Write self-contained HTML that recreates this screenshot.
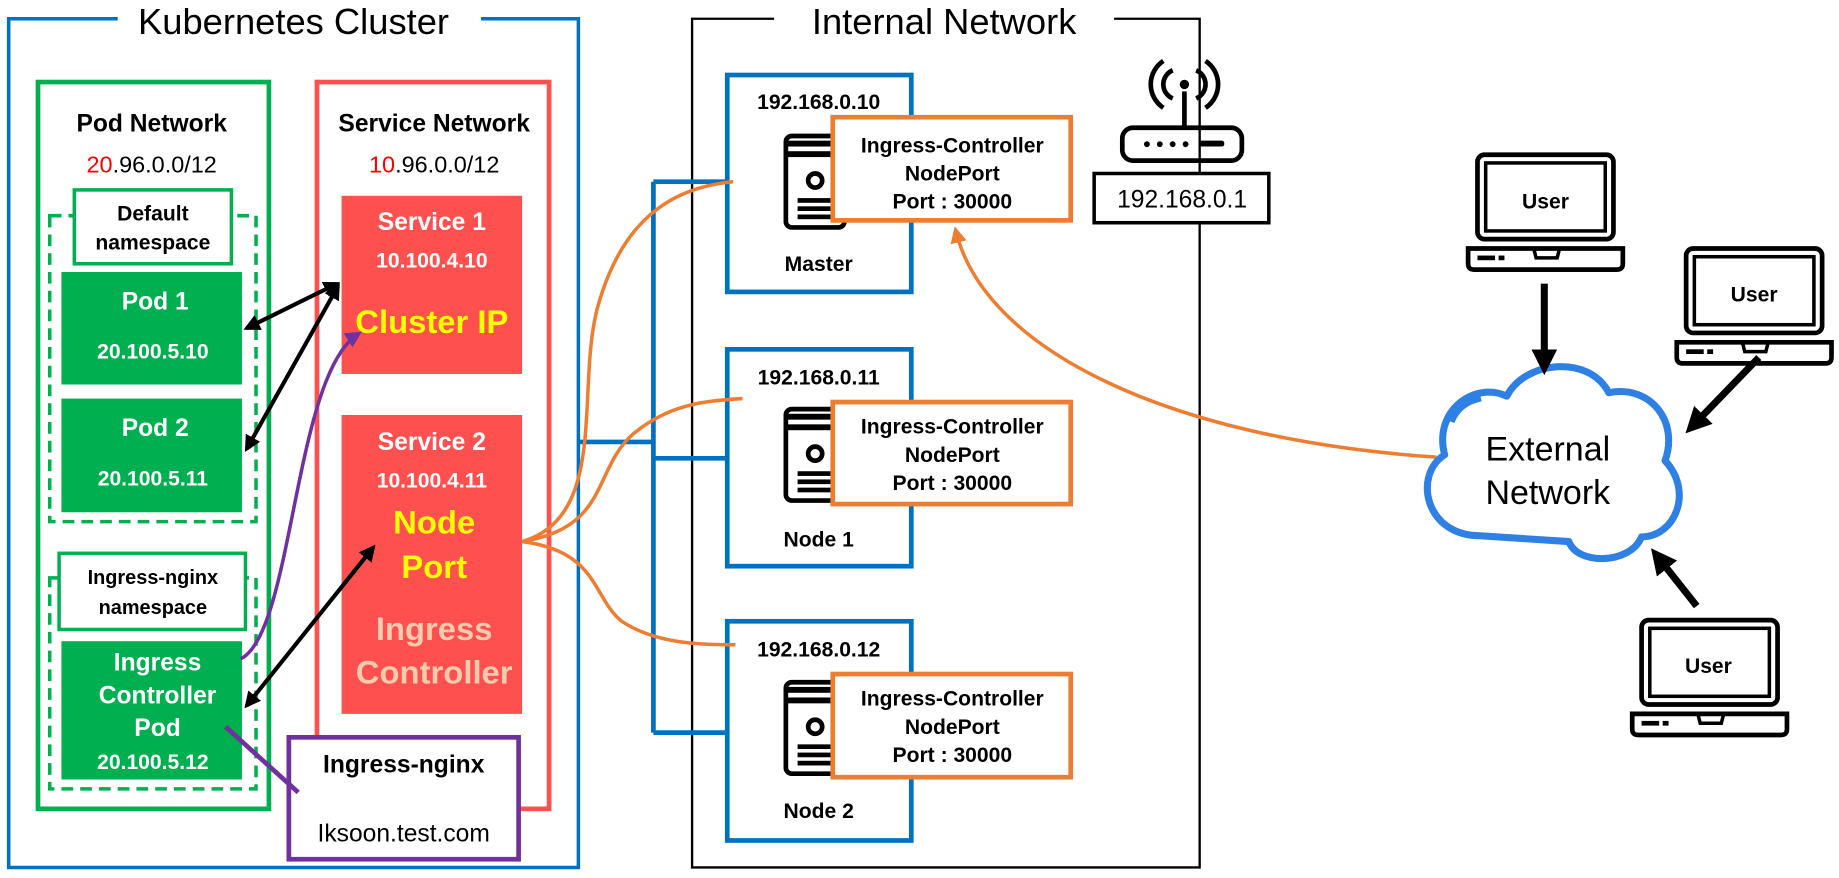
<!DOCTYPE html>
<html><head><meta charset="utf-8"><style>
html,body{margin:0;padding:0;background:#fff;width:1839px;height:878px;overflow:hidden}
svg{display:block}
text{font-family:"Liberation Sans","Noto Sans CJK KR",sans-serif;text-anchor:middle}
.b{font-weight:bold}
</style></head><body>
<svg width="1839" height="878" viewBox="0 0 1568 749" xmlns="http://www.w3.org/2000/svg">
<defs>
<marker id="ak" markerWidth="14" markerHeight="14" refX="11" refY="7" orient="auto-start-reverse" markerUnits="userSpaceOnUse"><path d="M0,0 L14,7 L0,14 z" fill="#000"/></marker>
<marker id="akb" markerWidth="22" markerHeight="22" refX="14" refY="11" orient="auto" markerUnits="userSpaceOnUse"><path d="M0,0 L22,11 L0,22 z" fill="#000"/></marker>
<marker id="ao" markerWidth="14" markerHeight="14" refX="10" refY="7" orient="auto" markerUnits="userSpaceOnUse"><path d="M0,0 L14,7 L0,14 z" fill="#ed7d31"/></marker>
<marker id="ap" markerWidth="14" markerHeight="14" refX="10" refY="7" orient="auto" markerUnits="userSpaceOnUse"><path d="M0,0 L14,7 L0,14 z" fill="#7030a0"/></marker>
<g id="srv">
<rect x="2" y="2" width="50" height="78" rx="5" fill="#fff" stroke="#000" stroke-width="4"/>
<rect x="2" y="6" width="50" height="5" fill="#000"/><rect x="2" y="15" width="50" height="5" fill="#000"/>
<circle cx="27" cy="40" r="6" fill="none" stroke="#000" stroke-width="4"/>
<rect x="12" y="55" width="30" height="4" fill="#000"/><rect x="12" y="62" width="30" height="4" fill="#000"/><rect x="12" y="69" width="30" height="4" fill="#000"/>
</g>
<g id="lap">
<rect x="10" y="2" width="116" height="72" rx="6" fill="#fff" stroke="#000" stroke-width="4"/>
<rect x="17" y="9" width="102" height="58" fill="none" stroke="#000" stroke-width="3"/>
<path d="M2,82 L134,82 L134,95 Q134,100 129,100 L7,100 Q2,100 2,95 Z" fill="#fff" stroke="#000" stroke-width="4"/>
<rect x="10" y="88" width="15" height="4" fill="#000"/><rect x="28" y="88" width="5" height="4" fill="#000"/>
<path d="M58,82 L60,90 L78,90 L80,82" fill="none" stroke="#000" stroke-width="3"/>
</g>
</defs>

<path d="M100,16 L7,16 L7,740 L493,740 L493,16 L410,16" fill="none" stroke="#0070c0" stroke-width="3"/>
<text x="250" y="29" font-size="31">Kubernetes Cluster</text>

<rect x="32" y="70" width="197" height="620" fill="none" stroke="#00b050" stroke-width="4"/>
<text x="129" y="112" font-size="21" class="b">Pod Network</text>
<text x="129" y="147" font-size="20"><tspan fill="#ff0000">20</tspan>.96.0.0/12</text>
<rect x="42" y="184" width="176" height="261" fill="none" stroke="#00b050" stroke-width="3" stroke-dasharray="10,6"/>
<rect x="63" y="162" width="134" height="63" fill="#fff" stroke="#00b050" stroke-width="3"/>
<text x="130" y="188" font-size="18" class="b">Default</text>
<text x="130" y="213" font-size="18" class="b">namespace</text>
<rect x="52" y="232" width="154" height="96" fill="#00b050"/>
<text x="132" y="264" font-size="21" class="b" fill="#fff">Pod 1</text>
<text x="130" y="306" font-size="18" class="b" fill="#fff">20.100.5.10</text>
<rect x="52" y="340" width="154" height="97" fill="#00b050"/>
<text x="132" y="372" font-size="21" class="b" fill="#fff">Pod 2</text>
<text x="130" y="414" font-size="18" class="b" fill="#fff">20.100.5.11</text>
<rect x="42" y="493" width="176" height="180" fill="none" stroke="#00b050" stroke-width="3" stroke-dasharray="10,6"/>
<rect x="50" y="472" width="159" height="65" fill="#fff" stroke="#00b050" stroke-width="3"/>
<text x="130" y="498" font-size="17" class="b">Ingress-nginx</text>
<text x="130" y="524" font-size="17" class="b">namespace</text>
<rect x="52" y="547" width="154" height="118" fill="#00b050"/>
<text x="134" y="572" font-size="21" class="b" fill="#fff">Ingress</text>
<text x="134" y="600" font-size="21" class="b" fill="#fff">Controller</text>
<text x="134" y="628" font-size="21" class="b" fill="#fff">Pod</text>
<text x="130" y="656" font-size="18" class="b" fill="#fff">20.100.5.12</text>

<rect x="270" y="70" width="198" height="620" fill="none" stroke="#ff5050" stroke-width="4"/>
<text x="370" y="112" font-size="21" class="b">Service Network</text>
<text x="370" y="147" font-size="20"><tspan fill="#ff0000">10</tspan>.96.0.0/12</text>
<rect x="291" y="167" width="154" height="152" fill="#ff5050"/>
<text x="368" y="196" font-size="21" class="b" fill="#fff">Service 1</text>
<text x="368" y="228" font-size="18" class="b" fill="#fff">10.100.4.10</text>
<text x="368" y="284" font-size="28" class="b" fill="#ffff00">Cluster IP</text>
<rect x="291" y="354" width="154" height="255" fill="#ff5050"/>
<text x="368" y="384" font-size="21" class="b" fill="#fff">Service 2</text>
<text x="368" y="416" font-size="18" class="b" fill="#fff">10.100.4.11</text>
<text x="370" y="455" font-size="28" class="b" fill="#ffff00">Node</text>
<text x="370" y="493" font-size="28" class="b" fill="#ffff00">Port</text>
<text x="370" y="546" font-size="28" class="b" fill="#f8cbad">Ingress</text>
<text x="370" y="583" font-size="28" class="b" fill="#f8cbad">Controller</text>

<rect x="246" y="629" width="196" height="104" fill="#fff" stroke="#7030a0" stroke-width="4"/>
<text x="344" y="659" font-size="21" class="b">Ingress-nginx</text>
<text x="344" y="718" font-size="21">Iksoon.test.com</text>

<g stroke="#000" stroke-width="3.5" fill="none">
<line x1="210" y1="280" x2="287" y2="242" marker-start="url(#ak)" marker-end="url(#ak)"/>
<line x1="210" y1="383" x2="288" y2="244" marker-start="url(#ak)" marker-end="url(#ak)"/>
<line x1="210" y1="602" x2="318" y2="467" marker-start="url(#ak)" marker-end="url(#ak)"/>
</g>
<path d="M205,562 C250,540 250,320 305,285" fill="none" stroke="#7030a0" stroke-width="3" marker-end="url(#ap)"/>
<line x1="192" y1="620" x2="254" y2="676" stroke="#7030a0" stroke-width="4"/>

<path d="M660,16 L590,16 L590,740 L1023,740 L1023,16 L950,16" fill="none" stroke="#000" stroke-width="2"/>
<text x="805" y="29" font-size="31">Internal Network</text>

<g stroke="#0070c0" stroke-width="4" fill="none">
<line x1="493" y1="377" x2="557" y2="377"/>
<line x1="557" y1="155" x2="557" y2="625"/>
<line x1="557" y1="155" x2="620" y2="155"/>
<line x1="557" y1="391" x2="620" y2="391"/>
<line x1="557" y1="625" x2="620" y2="625"/>
</g>

<g>
<rect x="620" y="64" width="157" height="185" fill="#fff" stroke="#0070c0" stroke-width="4"/>
<text x="698" y="93" font-size="18" class="b">192.168.0.10</text>
<use href="#srv" x="668" y="114"/>
<text x="698" y="231" font-size="18" class="b">Master</text>
<rect x="710" y="100" width="203" height="88" fill="#fff" stroke="#ed7d31" stroke-width="4"/>
<text x="812" y="130" font-size="18" class="b">Ingress-Controller</text>
<text x="812" y="154" font-size="18" class="b">NodePort</text>
<text x="812" y="178" font-size="18" class="b">Port : 30000</text>

<rect x="620" y="298" width="157" height="185" fill="#fff" stroke="#0070c0" stroke-width="4"/>
<text x="698" y="328" font-size="18" class="b">192.168.0.11</text>
<use href="#srv" x="668" y="347"/>
<text x="698" y="466" font-size="18" class="b">Node 1</text>
<rect x="710" y="343" width="203" height="87" fill="#fff" stroke="#ed7d31" stroke-width="4"/>
<text x="812" y="370" font-size="18" class="b">Ingress-Controller</text>
<text x="812" y="394" font-size="18" class="b">NodePort</text>
<text x="812" y="418" font-size="18" class="b">Port : 30000</text>

<rect x="620" y="530" width="157" height="187" fill="#fff" stroke="#0070c0" stroke-width="4"/>
<text x="698" y="560" font-size="18" class="b">192.168.0.12</text>
<use href="#srv" x="668" y="580"/>
<text x="698" y="698" font-size="18" class="b">Node 2</text>
<rect x="710" y="575" width="203" height="88" fill="#fff" stroke="#ed7d31" stroke-width="4"/>
<text x="812" y="602" font-size="18" class="b">Ingress-Controller</text>
<text x="812" y="626" font-size="18" class="b">NodePort</text>
<text x="812" y="650" font-size="18" class="b">Port : 30000</text>
</g>

<g stroke="#ed7d31" stroke-width="3" fill="none">
<path d="M445,462 C520,440 490,330 510,260 C530,190 570,160 625,155"/>
<path d="M445,462 C520,450 505,400 540,370 C570,345 600,342 633,340"/>
<path d="M445,462 C510,470 505,510 530,530 C560,550 600,550 627,550"/>
<path d="M1225,390 C1000,375 840,300 815,197" marker-end="url(#ao)"/>
</g>

<g fill="none" stroke="#000" stroke-width="4">
<line x1="1010" y1="78" x2="1010" y2="108"/>
<circle cx="1010" cy="72" r="4" fill="#000" stroke="none"/>
<path d="M1000,60 A13,13 0 0 0 1000,84"/><path d="M1020,60 A13,13 0 0 1 1020,84"/>
<path d="M992,52 A24,24 0 0 0 992,92"/><path d="M1028,52 A24,24 0 0 1 1028,92"/>
<rect x="957" y="109" width="102" height="28" rx="9"/>
</g>
<g fill="#000"><circle cx="978" cy="123" r="2.5"/><circle cx="989" cy="123" r="2.5"/><circle cx="1000" cy="123" r="2.5"/><circle cx="1011" cy="123" r="2.5"/><rect x="1022" y="120" width="22" height="5" rx="2"/></g>
<rect x="933" y="148" width="149" height="42" fill="#fff" stroke="#000" stroke-width="3"/>
<text x="1008" y="177" font-size="21">192.168.0.1</text>

<path d="M1262,457 C1215,457 1205,405 1232,388 C1222,350 1258,325 1285,338 C1300,308 1355,302 1372,335 C1408,328 1432,360 1420,393 C1445,420 1428,458 1400,458 C1390,482 1345,482 1338,462 Z" fill="#fff" stroke="#2f80e4" stroke-width="6" stroke-linejoin="round"/>
<path d="M1238,360 C1243,347 1253,342 1263,340" fill="none" stroke="#2f80e4" stroke-width="5"/>
<text x="1320" y="393" font-size="29">External</text>
<text x="1320" y="430" font-size="29">Network</text>

<use href="#lap" x="1250" y="130"/>
<text x="1318" y="178" font-size="18" class="b">User</text>
<use href="#lap" x="1428" y="210"/>
<text x="1496" y="257" font-size="18" class="b">User</text>
<use href="#lap" x="1390" y="527"/>
<text x="1457" y="574" font-size="18" class="b">User</text>
<g stroke="#000" stroke-width="6">
<line x1="1317" y1="242" x2="1317" y2="312" marker-end="url(#akb)"/>
<line x1="1500" y1="305" x2="1443" y2="364" marker-end="url(#akb)"/>
<line x1="1447" y1="517" x2="1413" y2="474" marker-end="url(#akb)"/>
</g>
</svg>
</body></html>
